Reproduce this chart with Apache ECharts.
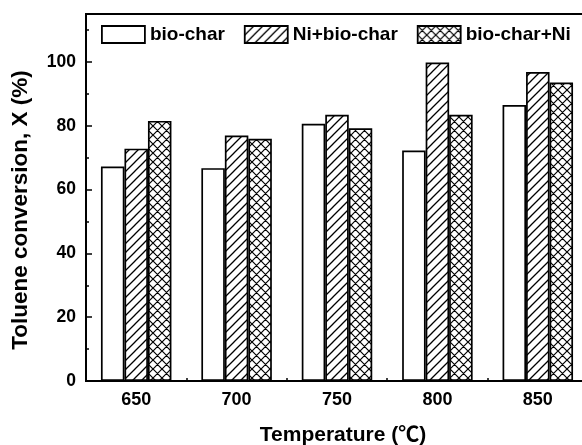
<!DOCTYPE html>
<html>
<head>
<meta charset="utf-8">
<script src="https://cdn.jsdelivr.net/npm/echarts@6/dist/echarts.min.js"></script>
<style>
html,body{margin:0;padding:0;background:#fff;}
#main{width:582px;height:445px;}
</style>
</head>
<body>
<div id="main"></div>
<script>
var categories = ['650', '700', '750', '800', '850'];
var seriesNames = ['bio-char', 'Ni+bio-char', 'bio-char+Ni'];
var bioChar = [67.2, 66.7, 80.6, 72.2, 86.5];
var niBioChar = [72.8, 76.9, 83.4, 99.8, 96.8];
var bioCharNi = [81.5, 75.9, 79.2, 83.4, 93.5];
var yTicks = [0, 20, 40, 60, 80, 100];

var FONT = '"Liberation Sans", Arial, "Noto Sans CJK SC", sans-serif';

function hatchPattern() {
  var c = document.createElement('canvas');
  var s = 9;
  c.width = s; c.height = s;
  var g = c.getContext('2d');
  g.fillStyle = '#fff'; g.fillRect(0, 0, s, s);
  g.strokeStyle = '#000'; g.lineWidth = 1.3;
  g.beginPath();
  g.moveTo(-1, s + 1); g.lineTo(s + 1, -1);
  g.moveTo(-1, 1); g.lineTo(1, -1);
  g.moveTo(s - 1, s + 1); g.lineTo(s + 1, s - 1);
  g.stroke();
  return {image: c, repeat: 'repeat'};
}
function crossPattern() {
  var c = document.createElement('canvas');
  var s = 9;
  c.width = s; c.height = s;
  var g = c.getContext('2d');
  g.fillStyle = '#fff'; g.fillRect(0, 0, s, s);
  g.strokeStyle = '#000'; g.lineWidth = 1.2;
  g.beginPath();
  g.moveTo(-1, s + 1); g.lineTo(s + 1, -1);
  g.moveTo(-1, 1); g.lineTo(1, -1);
  g.moveTo(s - 1, s + 1); g.lineTo(s + 1, s - 1);
  g.moveTo(-1, -1); g.lineTo(s + 1, s + 1);
  g.moveTo(-1, s - 1); g.lineTo(1, s + 1);
  g.moveTo(s - 1, -1); g.lineTo(s + 1, 1);
  g.stroke();
  return {image: c, repeat: 'repeat'};
}

var fills = ['#ffffff', hatchPattern(), crossPattern()];
var values = [bioChar, niBioChar, bioCharNi];

var chart = echarts.init(document.getElementById('main'), null, {renderer: 'canvas'});

var series = seriesNames.map(function (n, i) {
  return {
    name: n,
    type: 'bar',
    xAxisIndex: 0,
    yAxisIndex: 0,
    data: values[i],
    barWidth: 23.5,
    barGap: '0%',
    itemStyle: {color: fills[i], borderColor: '#000', borderWidth: 1.7},
    emphasis: {disabled: true}
  };
});

chart.setOption({
  animation: false,
  backgroundColor: '#fff',
  textStyle: {fontFamily: FONT},
  grid: {
    left: 86, top: 14, width: 502, height: 367,
    show: true, borderColor: '#000', borderWidth: 2, backgroundColor: 'transparent',
    containLabel: false, outerBoundsMode: 'none'
  },
  legend: {
    data: seriesNames,
    left: 101,
    top: 25,
    padding: 0,
    itemWidth: 43,
    itemHeight: 17,
    itemGap: 19,
    icon: 'rect',
    itemStyle: {borderColor: '#000', borderWidth: 1.8},
    textStyle: {fontSize: 19, fontWeight: 'bold', color: '#000', fontFamily: FONT}
  },
  xAxis: [{
    type: 'category',
    data: categories,
    position: 'bottom',
    axisLine: {show: true, lineStyle: {color: '#000', width: 2}},
    axisTick: {show: true, inside: true, alignWithLabel: true, length: 6, lineStyle: {color: '#000', width: 1.5}},
    axisLabel: {fontSize: 18, fontWeight: 'bold', color: '#000', margin: 10, fontFamily: FONT},
    splitLine: {show: false}
  }, {
    type: 'category',
    data: categories,
    position: 'bottom',
    axisLine: {show: false},
    axisTick: {show: true, inside: true, length: 3, lineStyle: {color: '#000', width: 1.5}},
    axisLabel: {show: false},
    splitLine: {show: false}
  }],
  yAxis: [{
    type: 'value',
    position: 'left',
    min: 0,
    max: 115,
    interval: 20,
    axisLine: {show: true, lineStyle: {color: '#000', width: 2}},
    axisTick: {show: true, inside: true, length: 6, lineStyle: {color: '#000', width: 1.5}},
    axisLabel: {
      fontSize: 17.5, fontWeight: 'bold', color: '#000', margin: 10, fontFamily: FONT,
      formatter: function (v) { return yTicks.indexOf(v) >= 0 ? String(v) : ''; }
    },
    splitLine: {show: false}
  }, {
    type: 'value',
    position: 'left',
    offset: 0,
    min: 0,
    max: 115,
    interval: 10,
    axisLine: {show: false},
    axisTick: {show: true, inside: true, length: 3, lineStyle: {color: '#000', width: 1.5}},
    axisLabel: {show: false},
    splitLine: {show: false}
  }],
  graphic: [{
    type: 'text',
    x: 21, y: 210,
    rotation: Math.PI / 2,
    style: {
      text: 'Toluene conversion, X (%)',
      fontSize: 22.5, fontWeight: 'bold', fill: '#000', fontFamily: FONT,
      textAlign: 'center', textVerticalAlign: 'middle'
    }
  }, {
    type: 'text',
    x: 343, y: 435,
    style: {
      text: 'Temperature (℃)',
      fontSize: 21, fontWeight: 'bold', fill: '#000', fontFamily: FONT,
      textAlign: 'center', textVerticalAlign: 'middle'
    }
  }],
  series: series
});
</script>
</body>
</html>
